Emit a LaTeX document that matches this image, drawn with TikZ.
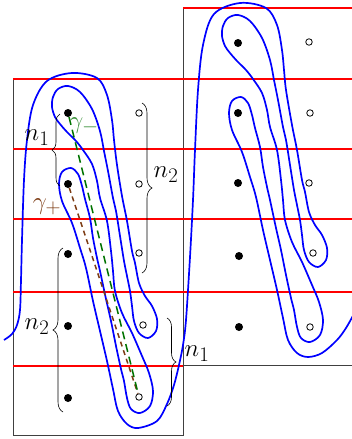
\documentclass[tikz,border=0pt]{standalone}
\usetikzlibrary{decorations.pathreplacing}
\definecolor{gbrown}{RGB}{125,60,20}
\definecolor{ggreen}{RGB}{0,115,0}
\definecolor{lgreen}{RGB}{60,145,60}
\begin{document}
\begin{tikzpicture}[x=1pt,y=-1pt,
  redline/.style={red, line width=1.5pt},
  boxline/.style={black!75, line width=0.8pt},
  curve/.style={blue, line width=1.7pt, line join=round},
  fdot/.style={circle, fill=black, inner sep=0pt, minimum size=8pt},
  odot/.style={circle, draw=black, fill=white, line width=0.8pt, inner sep=0pt, minimum size=6.5pt},
  bracestyle/.style={decorate, decoration={brace, amplitude=#1}, line width=0.6pt},
  lab/.style={font=\Huge, inner sep=0pt},
  gmdash/.style={ggreen, line width=1.5pt, dash pattern=on 8pt off 5pt},
  gpdash/.style={gbrown, line width=1.5pt, dash pattern=on 5pt off 4pt}
]
\useasboundingbox (0,0) rectangle (352,439);
% boxes
\draw[boxline] (13,79) rectangle (183,435);
\draw[boxline] (183,8) rectangle (360,365);
% red lines
\draw[redline] (183,8) -- (352,8);
\draw[redline] (13,79) -- (352,79);
\draw[redline] (13,149) -- (352,149);
\draw[redline] (13,219) -- (352,219);
\draw[redline] (13,292) -- (352,292);
\draw[redline] (13,366) -- (183,366);
% blue curve
\draw[curve] plot[smooth, tension=0.55] coordinates {
(4,340) (12,334) (17,325) (20,310) (21,280) (22,240) (24,180) (27,140) (33,105) (47,81) (72,73)
(97,78) (107,95) (112,120) (114,140) (117,165) (122,196) (127,221) (132,251) (135,263) (139,283) (145,296) (152,306) (157,319) (156,331) (148,338) (139,333) (134,321) (132,306) (130,291) (127,276) (124,261) (120,236) (116,211) (113,198) (108,171) (104,151) (100,131) (92,109) (80,92) (68,86) (58,89) (53,97) (52,107) (55,117) (60,124) (67,132) (76,141) (83,150) (92,164) (97,181) (100,198) (107,221) (111,251) (113,271) (115,291) (122,313) (132,333) (142,356) (149,373) (153,391) (150,406) (140,413) (131,409) (127,398) (124,381) (121,369) (116,346) (111,321) (106,299) (100,271) (97,258) (93,238) (90,218) (85,199) (82,186) (78,174) (71,168) (62,172) (59,184) (62,201) (72,223) (80,248) (86,268) (93,301) (100,331) (107,361) (113,389) (118,411) (127,424) (138,428)
(157,421) (167,404) (174,385) (179,365) (183,345) (186,320) (190,257) (193,200) (195,150) (198,90) (203,45) (214,14) (240,3)
(266,8) (277,25) (282,50) (284,70) (286,90) (292,125) (297,150) (302,180) (305,192) (309,212) (315,225) (322,235) (327,248) (326,260) (318,267) (309,262) (304,250) (302,235) (300,220) (297,205) (294,190) (290,165) (286,140) (283,127) (278,100) (274,80) (270,60) (262,38) (250,21) (238,15) (228,18) (223,26) (222,36) (225,46) (230,53) (237,61) (246,70) (253,79) (262,93) (267,110) (270,127) (277,150) (281,180) (283,200) (285,220) (292,242) (302,262) (312,285) (319,302) (323,320) (320,335) (310,342) (301,338) (297,327) (294,310) (291,298) (286,275) (281,250) (276,228) (270,200) (267,187) (263,167) (260,147) (255,128) (252,115) (248,103) (241,97) (232,101) (229,113) (232,130) (242,152) (250,177) (256,197) (263,230) (270,260) (277,290) (283,318) (288,340) (297,353) (308,357) (322,353) (337,340) (346,328) (355,312)
};
% dots left box
\node[fdot] (d1) at (68,113) {};
\node[fdot] (d2) at (68,184) {};
\node[fdot] (d3) at (68,254) {};
\node[fdot] (d4) at (68,326) {};
\node[fdot] (d5) at (68,398) {};
\node[odot] (o1) at (139,113) {};
\node[odot] (o2) at (139,184) {};
\node[odot] (o3) at (139,253) {};
\node[odot] (o4) at (143,325) {};
\node[odot] (o5) at (139,397) {};
% dots right box
\node[fdot] (e1) at (238,43) {};
\node[fdot] (e2) at (238,113) {};
\node[fdot] (e3) at (238,183) {};
\node[fdot] (e4) at (239,256) {};
\node[fdot] (e5) at (239,327) {};
\node[odot] (p1) at (309,42) {};
\node[odot] (p2) at (310,113) {};
\node[odot] (p3) at (309,183) {};
\node[odot] (p4) at (313,253) {};
\node[odot] (p5) at (310,327) {};
% gamma arcs
\draw[gpdash] (d2) -- (o5);
\draw[gmdash] (d1) -- (o5);
% braces
\coordinate (bn1a) at (60,186); \coordinate (bn1b) at (60,114);
\coordinate (bn2a) at (142,103); \coordinate (bn2b) at (142,273);
\coordinate (bm2a) at (63,412); \coordinate (bm2b) at (63,248);
\coordinate (bm1a) at (167,318); \coordinate (bm1b) at (167,406);
\draw[bracestyle=8] (bn1a) -- (bn1b);
\draw[bracestyle=10] (bn2a) -- (bn2b);
\draw[bracestyle=10] (bm2a) -- (bm2b);
\draw[bracestyle=9] (bm1a) -- (bm1b);
% labels
\node[lab] (ln1) at (37,138) {$n_1$};
\node[lab] (rn2) at (166,175) {$n_2$};
\node[lab] (ln2) at (37,327) {$n_2$};
\node[lab] (rn1) at (197,354) {$n_1$};
\node[lab, text=gbrown] (gp) at (47,207) {$\gamma_+$};
\node[lab, text=lgreen] (gm) at (84,126) {$\gamma_-$};
\end{tikzpicture}
\end{document}
